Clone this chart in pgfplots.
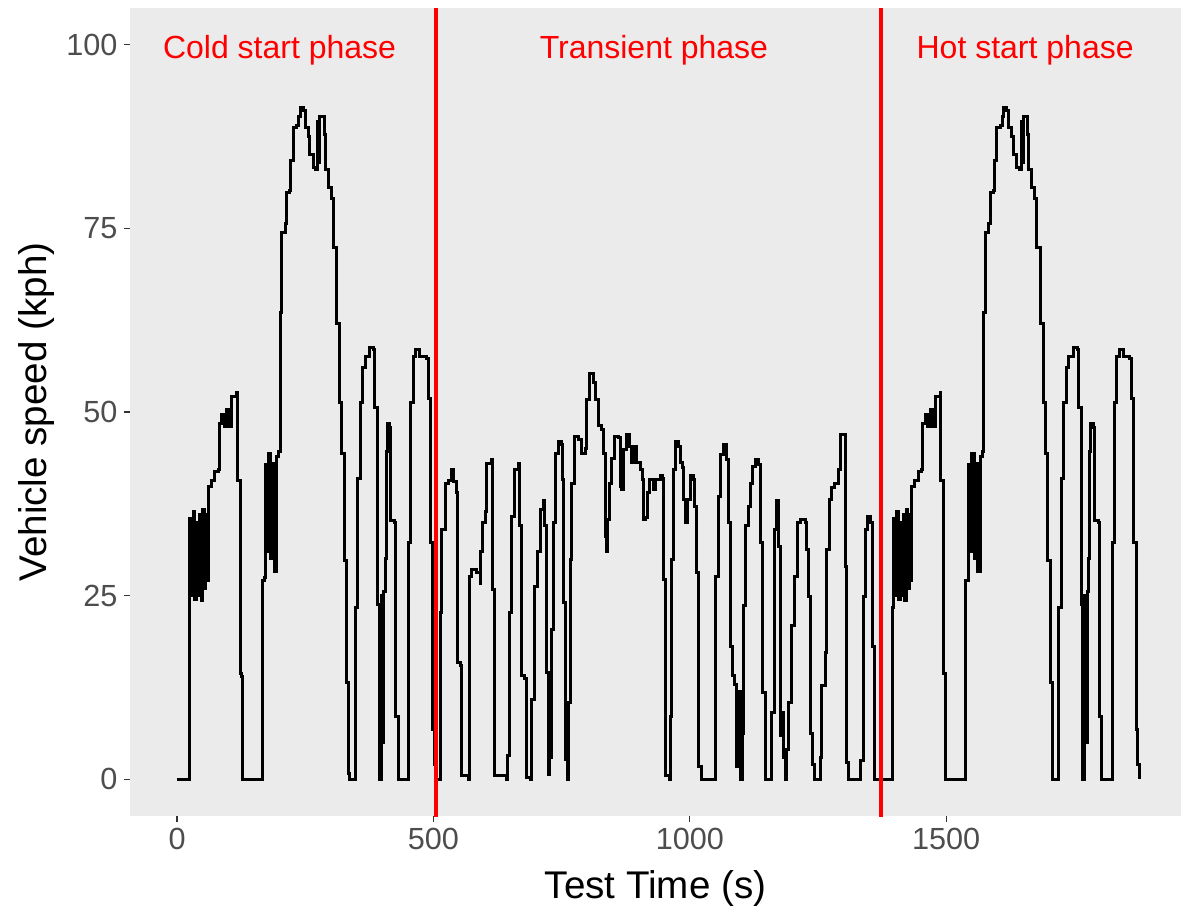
\documentclass[border=0pt]{standalone}
\usepackage{fontspec}
\setmainfont{Liberation Sans}
\usepackage{pgfplots}
\pgfplotsset{compat=1.18}
\usepackage{pgfplotstable}
\definecolor{panelbg}{HTML}{EBEBEB}
\definecolor{tickc}{HTML}{333333}
\definecolor{ticklab}{HTML}{4D4D4D}

% Cold start phase (0-505 s); the hot start phase repeats it from 1372 s
\pgfplotstableread{
t v
0 0
20 0
22 0
24 23.4
25 35.5
28 30
30 25
32 36.5
35 24.5
38 35
41 25
44 36
47 24.3
50 36.7
53 26
56 36
59 27
61 39.8
67 40.7
74 41.9
80 42.2
82 48.5
87 49.7
92 48
97 50.3
102 48
107 52.1
116 52.6
117 40.7
122 40.7
123 14.4
126 14
127 0
165 0
166 27.1
171 27.5
172 42.8
176 31
178 44.3
183 30
187 43
190 28.3
194 44
198 44.6
201 63.6
204 74.5
211 75.7
214 79.9
220 80.2
222 84.2
227 88.7
233 89
237 90.2
240 91.4
246 91.1
250 88.7
256 87.5
259 85.1
266 83.3
271 83
274 89.6
276 84
278 90.2
282 90.2
287 87.8
289 83
295 80.5
301 79
305 72.4
311 62.1
317 51.3
321 44.3
326 29.8
331 13.2
335 0.8
336 0
347 0
348 23.4
352 41
357 51.3
362 56.1
367 57.6
376 58.8
384 58.5
386 50.6
391 23.8
394 0
396 0
398 25
400 5
403 25.6
406 30
408 44.6
410 48.5
415 47.9
417 35.2
425 35
427 8.6
431 0
451 0
452 32.2
456 51.3
461 57.6
466 58.5
473 57.6
486 57.3
490 51.8
494 32.2
499 6.8
502 2
505 0
}\coldphase

% Transient phase (505-1372 s)
\pgfplotstableread{
t v
505 0
510 0
513 10.9
514 22.7
516 34
523 40.3
530 40.7
536 42.2
540 40.5
545 39
547 15.9
552 15.5
555 0.5
568 0
570 27.6
575 28.6
584 28.2
591 26.7
592 31
596 34.9
601 36.5
604 43
614 43.5
615 25.8
619 25.8
620 0.5
643 0
645 3.2
648 22.7
653 35.8
659 42.2
666 43
668 34.5
672 14.1
678 13.7
682 0.3
689 0
692 10.9
698 26.3
703 31
708 36.7
714 37.9
717 34.5
721 14.5
724 0.7
727 10
729 3
731 20.4
735 34.9
739 44.4
744 46
749 45.6
752 40.8
754 24
757 2.7
761 0
763 10.4
767 29.9
770 40.3
776 46.7
783 46.2
789 44.4
796 45.1
799 51.7
805 55.3
812 54
817 51.7
822 48.1
828 47.6
831 44.4
835 33.1
837 31
839 35.4
844 40.3
848 43.7
854 46.7
860 46.5
864 39.9
867 39.5
870 44.9
877 46.9
883 45.3
887 43.1
893 45.3
896 43.1
903 42.2
908 40.8
910 35.4
914 35.6
917 39
922 40.8
929 39.4
934 40.8
942 41.3
946 41
948 27.2
952 0.5
961 0
963 8.6
965 29.9
968 42.2
973 46
978 45.3
981 43.1
985 42.5
988 38.1
991 34.9
995 38.1
1001 41.3
1008 40.8
1010 37.2
1014 28.1
1017 1.8
1023 0
1049 0
1051 27.6
1056 38.5
1060 44.2
1066 45.6
1071 43.5
1075 34.9
1080 18.1
1084 14.1
1088 12.9
1092 1.8
1095 12
1098 0
1102 6.3
1105 23.6
1108 34.5
1114 37.2
1118 40.3
1123 42.6
1129 43.5
1134 42.8
1138 32.2
1142 11.8
1147 0
1157 0
1160 9.1
1166 34
1170 37.9
1173 31.7
1176 5.9
1180 9.1
1183 3
1186 0
1189 4
1192 10.4
1199 20.9
1205 27.6
1210 34.9
1215 35.4
1225 34.9
1228 31.3
1231 24.9
1235 6.3
1240 2
1243 0
1251 0
1254 3
1257 12.7
1264 17.2
1267 31.3
1272 38.1
1277 39.7
1283 40.3
1290 42.2
1293 46.9
1300 46.9
1303 29
1306 2.3
1310 0
1329 0
1332 2.5
1339 24.9
1342 34
1347 35.8
1353 34.9
1357 18.1
1360 0
1372 0
}\transphase

\begin{document}
\begin{tikzpicture}[x=1pt,y=1pt]
\useasboundingbox (-65,-51) rectangle (525.5,408);
\begin{axis}[
  at={(0,0)}, anchor=south west,
  scale only axis, width=525.5pt, height=404pt,
  xmin=-91.7, xmax=1958, ymin=-5, ymax=105,
  axis background/.style={fill=panelbg},
  axis line style={draw=none},
  tick align=outside,
  xtick pos=bottom, ytick pos=left,
  major tick length=2.75pt,
  every tick/.style={tickc, line width=0.55pt},
  xtick={0,500,1000,1500}, ytick={0,25,50,75,100},
  minor tick num=0,
  scaled ticks=false,
  /pgf/number format/1000 sep={},
  /pgf/number format/assume math mode=true,
  tick label style={font=\fontsize{15.3}{18}\selectfont, color=ticklab},
  xlabel={Test Time (s)}, ylabel={Vehicle speed (kph)},
  every axis x label/.style={at={(axis description cs:0.5,-0.1015)}, anchor=base, font=\fontsize{19.3}{23}\selectfont},
  every axis y label/.style={at={(axis description cs:-0.0799,0.5)}, rotate=90, anchor=base, font=\fontsize{19.3}{23}\selectfont},
  clip=true,
]
\addplot[black, line width=1.5pt, const plot, line join=miter] table[x=t, y=v] {\coldphase};
\addplot[black, line width=1.5pt, const plot, line join=miter] table[x=t, y=v] {\transphase};
\addplot[black, line width=1.5pt, const plot, line join=miter] table[x expr=\thisrow{t}+1372, y=v] {\coldphase};
\addplot[red, line width=2pt] coordinates {(505,-10) (505,110)};
\addplot[red, line width=2pt] coordinates {(1372,-10) (1372,110)};
\node[red, font=\fontsize{16}{19}\selectfont, yshift=-2.5pt] at (axis cs:200,100) {Cold start phase};
\node[red, font=\fontsize{16}{19}\selectfont, yshift=-2.5pt] at (axis cs:930,100) {Transient phase};
\node[red, font=\fontsize{16}{19}\selectfont, yshift=-2.5pt] at (axis cs:1654,100) {Hot start phase};
\end{axis}
\end{tikzpicture}
\end{document}
